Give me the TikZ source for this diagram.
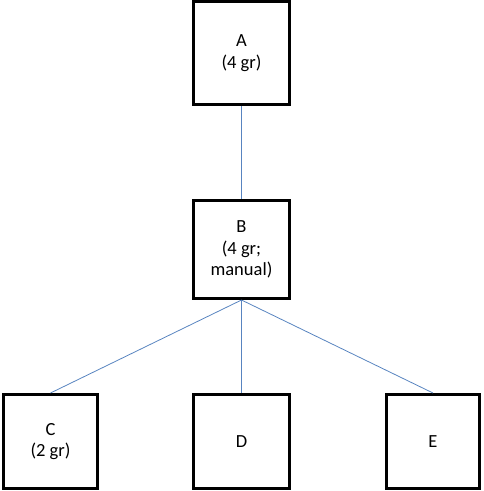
\documentclass[tikz,border=0pt]{standalone}
\usepackage{fontspec}
\setmainfont{Carlito}
\usepackage{tikz}
\definecolor{linkblue}{RGB}{88,132,192}

\begin{document}
\begin{tikzpicture}[
      x=1pt, y=-1pt,
      box/.style={rectangle, draw=black, line width=3pt, fill=white,
                  minimum width=96pt, minimum height=96pt, inner sep=0pt,
                  align=center, font=\fontsize{18.5}{21.5}\selectfont},
      link/.style={draw=linkblue, line width=0.8pt}
    ]
      \useasboundingbox (0,0) rectangle (483,491);
      %% Tree nodes
      \node[box, minimum height=103pt] (A) at (241.5, 53) {A\\(4 gr)};
      \node[box, minimum height=98pt] (B) at (241.5, 249.5) {B\\(4 gr;\\manual)};
      \node[box, minimum width=94pt, minimum height=94pt] (C) at (50.5, 441.5) {C\\(2 gr)};
      \node[box, minimum height=94pt] (D) at (241.5, 441.5) {D};
      \node[box, minimum width=93pt, minimum height=94pt] (E) at (433, 441.5) {E};
      %% Edges
      \draw[link] (A.south) -- (B.north);
      \foreach \child in {C, D, E}{
        \draw[link] (B.south) -- (\child.north);
      }
    \end{tikzpicture}
\end{document}
